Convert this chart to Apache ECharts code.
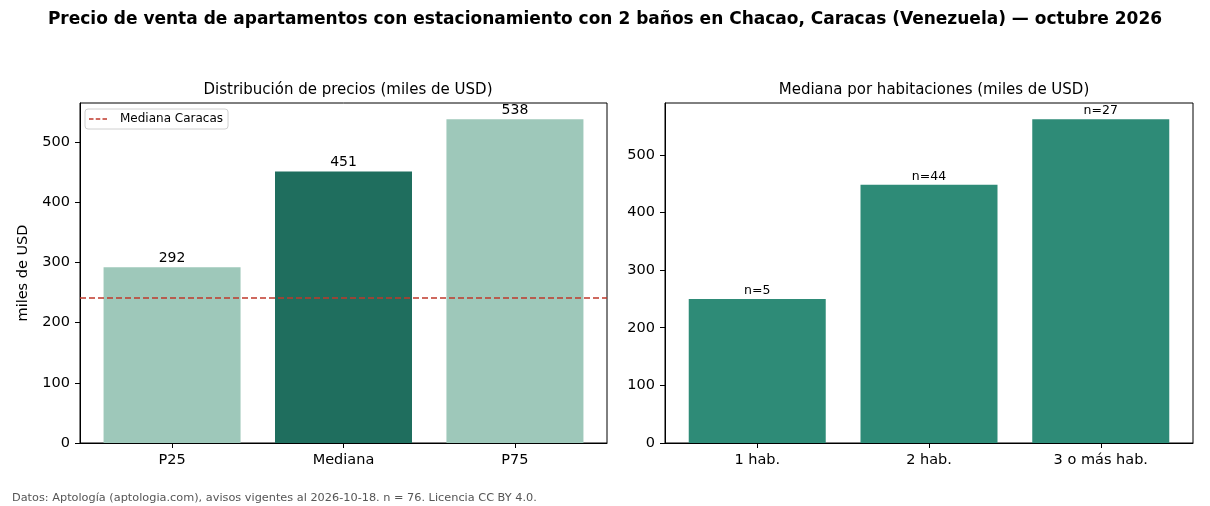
<!DOCTYPE html>
<html>
<head>
<meta charset="utf-8">
<script src="https://cdn.jsdelivr.net/npm/echarts@6/dist/echarts.min.js"></script>
<style>
  html, body { margin: 0; padding: 0; background: #fff; }
  #chart { width: 1210px; height: 506px; }
</style>
</head>
<body>
<div id="chart"></div>
<script>
// datos
var distCats = ['P25', 'Mediana', 'P75']
var distValues = [292, 451, 538]
var distColors = ['#9ec8ba', '#1f6e5e', '#9ec8ba']
var medianaCaracas = 242
var habCats = ['1 hab.', '2 hab.', '3 o más hab.']
var habValues = [250, 448, 562]
var habCounts = [5, 44, 27]
var yTicks = [0, 100, 200, 300, 400, 500]

var font = 'DejaVu Sans'
var red = '#c0392b'
var myChart = echarts.init(document.getElementById('chart'))

function valueAxis(idx, max, name) {
  return {
    type: 'value',
    gridIndex: idx,
    min: 0,
    max: max,
    interval: 100,
    name: name,
    nameLocation: 'middle',
    nameGap: 49,
    nameTextStyle: { fontFamily: font, fontSize: 14.5, color: '#000' },
    axisLine: { show: true, onZero: false, lineStyle: { color: '#000', width: 1 } },
    axisTick: { show: true, length: 5, inside: false, customValues: yTicks, lineStyle: { color: '#000' } },
    axisLabel: { fontFamily: font, fontSize: 14.5, color: '#000', margin: 10, customValues: yTicks },
    splitLine: { show: false }
  }
}

// eje x numérico para reproducir los márgenes de matplotlib
function catAxis(idx, cats) {
  return {
    type: 'value',
    gridIndex: idx,
    min: -0.537,
    max: 2.537,
    interval: 1,
    axisLine: { show: true, onZero: false, lineStyle: { color: '#000', width: 1 } },
    axisTick: { show: true, length: 5, customValues: [0, 1, 2], lineStyle: { color: '#000' } },
    axisLabel: {
      fontFamily: font, fontSize: 14.5, color: '#000', margin: 10,
      customValues: [0, 1, 2],
      formatter: function(v) { return cats[Math.round(v)] }
    },
    splitLine: { show: false }
  }
}

var option = {
  animation: false,
  backgroundColor: '#fff',
  title: [
    {
      text: 'Precio de venta de apartamentos con estacionamiento con 2 baños en Chacao, Caracas (Venezuela) — octubre 2026',
      left: 'center', top: 6,
      textStyle: { fontFamily: font, fontSize: 17, fontWeight: 'bold', color: '#000' }
    },
    {
      text: 'Distribución de precios (miles de USD)',
      left: 343, top: 78, textAlign: 'center',
      textStyle: { fontFamily: font, fontSize: 15, fontWeight: 'normal', color: '#000' }
    },
    {
      text: 'Mediana por habitaciones (miles de USD)',
      left: 929, top: 78, textAlign: 'center',
      textStyle: { fontFamily: font, fontSize: 15, fontWeight: 'normal', color: '#000' }
    },
    {
      text: 'Datos: Aptología (aptologia.com), avisos vigentes al 2026-10-18. n = 76. Licencia CC BY 4.0.',
      left: 7, top: 488,
      textStyle: { fontFamily: font, fontSize: 11.3, fontWeight: 'normal', color: '#555' }
    }
  ],
  legend: {
    data: [{ name: 'Mediana Caracas', icon: 'path://M0,0 h6 v2 h-6z M9,0 h6 v2 h-6z M18,0 h6 v2 h-6z' }],
    left: 85, top: 109,
    padding: [4, 5, 4, 4],
    borderColor: '#d0d0d0', borderWidth: 1, borderRadius: 3,
    backgroundColor: '#fff',
    itemWidth: 18, itemHeight: 2, itemGap: 6,
    textStyle: { fontFamily: font, fontSize: 12, color: '#000', padding: [0, 0, 0, 8] }
  },
  grid: [
    { left: 80, top: 103, width: 527, height: 340, show: true, borderColor: '#000', borderWidth: 1, backgroundColor: 'transparent' },
    { left: 665, top: 103, width: 528, height: 340, show: true, borderColor: '#000', borderWidth: 1, backgroundColor: 'transparent' }
  ],
  xAxis: [catAxis(0, distCats), catAxis(1, habCats)],
  yAxis: [valueAxis(0, 565, 'miles de USD'), valueAxis(1, 590, '')],
  series: [
    {
      type: 'bar',
      xAxisIndex: 0, yAxisIndex: 0,
      barWidth: 137,
      data: distValues.map(function(v, i) {
        return { value: [i, v], itemStyle: { color: distColors[i] } }
      }),
      label: {
        show: true, position: 'top', distance: 2, fontFamily: font, fontSize: 14, color: '#000',
        formatter: function(p) { return p.value[1] }
      },
      markLine: {
        silent: true,
        symbol: 'none',
        label: { show: false },
        lineStyle: { color: red, type: [6, 3], width: 1.5 },
        data: [{ yAxis: medianaCaracas }]
      }
    },
    {
      name: 'Mediana Caracas',
      type: 'line',
      xAxisIndex: 0, yAxisIndex: 0,
      symbol: 'none',
      data: [],
      itemStyle: { color: red },
      lineStyle: { color: red, type: [6, 3], width: 1.5 }
    },
    {
      type: 'bar',
      xAxisIndex: 1, yAxisIndex: 1,
      barWidth: 137,
      itemStyle: { color: '#2e8b77' },
      data: habValues.map(function(v, i) { return [i, v] }),
      label: {
        show: true, position: 'top', distance: 2, fontFamily: font, fontSize: 12.5, color: '#000',
        formatter: function(p) { return 'n=' + habCounts[p.dataIndex] }
      }
    }
  ]
}

myChart.setOption(option)
window.addEventListener('resize', function() {
  myChart.resize()
})
</script>
</body>
</html>
